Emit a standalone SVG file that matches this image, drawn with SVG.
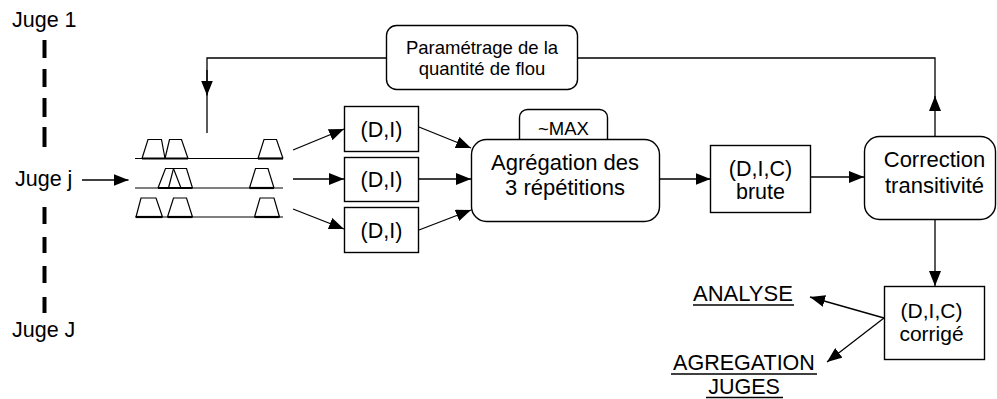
<svg xmlns="http://www.w3.org/2000/svg" width="997" height="399" viewBox="0 0 997 399">
  <defs>
    <marker id="ah" markerWidth="15" markerHeight="12" refX="15" refY="6" orient="auto" markerUnits="userSpaceOnUse">
      <path d="M0,0 L15,6 L0,12 z" fill="#000"/>
    </marker>
    <style>
      text { font-family: "Liberation Sans", Arial, sans-serif; fill: #000; }
      .t22 { font-size: 22px; }
      .t21 { font-size: 21.5px; }
      .t18 { font-size: 18.5px; }
      .box { fill: #fff; stroke: #000; stroke-width: 1.4; }
      .conn { fill: none; stroke: #000; stroke-width: 1.3; }
      .arr { fill: none; stroke: #000; stroke-width: 1.3; marker-end: url(#ah); }
      .dash { stroke: #000; stroke-width: 4; }
      .axis { stroke: #000; stroke-width: 1; }
      .trap { fill: none; stroke: #000; stroke-width: 1.2; stroke-linejoin: miter; }
      .foot { stroke: #000; stroke-width: 2.2; }
      .ul { stroke: #000; stroke-width: 1.5; }
    </style>
  </defs>

  <!-- judge axis -->
  <g id="judges">
    <text class="t21" x="12" y="26.5">Juge 1</text>
    <text class="t21" x="15" y="186">Juge j</text>
    <text class="t21" x="12" y="337">Juge J</text>
    <line class="dash" x1="44.5" y1="40" x2="44.5" y2="58"/>
    <line class="dash" x1="44.5" y1="69" x2="44.5" y2="87"/>
    <line class="dash" x1="44.5" y1="98" x2="44.5" y2="117"/>
    <line class="dash" x1="44.5" y1="127" x2="44.5" y2="147"/>
    <line class="dash" x1="44.5" y1="207" x2="44.5" y2="224"/>
    <line class="dash" x1="44.5" y1="237" x2="44.5" y2="253"/>
    <line class="dash" x1="44.5" y1="266" x2="44.5" y2="283"/>
    <line class="dash" x1="44.5" y1="297" x2="44.5" y2="313"/>
  </g>

  <!-- three repetitions of fuzzy judgements -->
  <g id="repetitions">
    <line class="axis" x1="135" y1="158.5" x2="283" y2="158.5"/>
    <line class="axis" x1="135" y1="188" x2="283" y2="188"/>
    <line class="axis" x1="135" y1="217" x2="283" y2="217"/>
    <!-- row 1 -->
    <path class="trap" d="M142,158.5 L148,139.5 L161.5,139.5 L165,158.5"/>
    <path class="trap" d="M165,158.5 L169.5,139.5 L181.5,139.5 L188,158.5"/>
    <path class="trap" d="M258,158.5 L264,139.5 L276.5,139.5 L283,158.5"/>
    <line class="foot" x1="142" y1="158.5" x2="188" y2="158.5"/>
    <line class="foot" x1="258" y1="158.5" x2="283" y2="158.5"/>
    <!-- row 2 -->
    <path class="trap" d="M158,188 L165.5,168.5 L173.5,168.5 L181,188"/>
    <path class="trap" d="M168.5,188 L173.5,168.5 L186.5,168.5 L192.5,188"/>
    <path class="trap" d="M249.5,188 L255.5,168.5 L268,168.5 L274,188"/>
    <line class="foot" x1="158" y1="188" x2="192.5" y2="188"/>
    <line class="foot" x1="249.5" y1="188" x2="274" y2="188"/>
    <!-- row 3 -->
    <path class="trap" d="M136,217 L141,198 L156,198 L162.5,217"/>
    <path class="trap" d="M167.5,217 L173.5,198 L186.5,198 L192.5,217"/>
    <path class="trap" d="M254.5,217 L260,198 L274,198 L279.5,217"/>
    <line class="foot" x1="136" y1="217" x2="162.5" y2="217"/>
    <line class="foot" x1="167.5" y1="217" x2="192.5" y2="217"/>
    <line class="foot" x1="254.5" y1="217" x2="279.5" y2="217"/>
  </g>

  <!-- connectors -->
  <g id="connectors">
    <!-- feedback loop -->
    <path class="conn" d="M935,109 L935,58 L207,58 L207,95"/>
    <line class="arr" x1="935" y1="136" x2="935" y2="96"/>
    <line class="arr" x1="207" y1="70" x2="207" y2="95.5"/>
    <line class="conn" x1="207" y1="95" x2="207" y2="133"/>
    <!-- judge j input -->
    <line class="arr" x1="82" y1="180" x2="128.5" y2="180"/>
    <!-- repetitions to (D,I) -->
    <line class="arr" x1="293" y1="150" x2="344" y2="129"/>
    <line class="arr" x1="293" y1="179" x2="344" y2="179"/>
    <line class="arr" x1="293" y1="209" x2="344" y2="229"/>
    <!-- (D,I) to aggregation -->
    <line class="arr" x1="419" y1="127" x2="471" y2="148"/>
    <line class="arr" x1="419" y1="179" x2="471" y2="179"/>
    <line class="arr" x1="419" y1="230" x2="471" y2="210"/>
    <!-- main chain -->
    <line class="arr" x1="659" y1="179" x2="710.5" y2="179"/>
    <line class="arr" x1="811" y1="177" x2="864" y2="177"/>
    <line class="arr" x1="935" y1="219" x2="935" y2="286"/>
    <!-- outputs -->
    <line class="arr" x1="884" y1="318" x2="810" y2="297"/>
    <line class="arr" x1="884" y1="318" x2="827" y2="362"/>
  </g>

  <g id="param">
    <rect class="box" x="386.5" y="25.5" width="191" height="64" rx="10"/>
    <text class="t18" x="482" y="54" text-anchor="middle">Paramétrage de la</text>
    <text class="t18" x="482" y="75" text-anchor="middle">quantité de flou</text>
  </g>

  <g id="di1">
    <rect class="box" x="344.5" y="106.5" width="74" height="45"/>
    <text class="t21" x="381.5" y="137" text-anchor="middle">(D,I)</text>
  </g>
  <g id="di2">
    <rect class="box" x="344.5" y="157.5" width="74" height="44"/>
    <text class="t21" x="381.5" y="187" text-anchor="middle">(D,I)</text>
  </g>
  <g id="di3">
    <rect class="box" x="344.5" y="207.5" width="74" height="45"/>
    <text class="t21" x="381.5" y="238" text-anchor="middle">(D,I)</text>
  </g>

  <g id="max">
    <rect class="box" x="519.5" y="109.5" width="88" height="45" rx="8"/>
    <text class="t18" x="563.5" y="134.5" text-anchor="middle">~MAX</text>
  </g>

  <g id="aggregation">
    <rect class="box" x="471.5" y="139.5" width="188" height="82" rx="15"/>
    <text class="t22" x="565" y="170" text-anchor="middle">Agrégation des</text>
    <text class="t22" x="565" y="195" text-anchor="middle">3 répétitions</text>
  </g>

  <g id="raw">
    <rect class="box" x="710.5" y="145.5" width="100" height="67"/>
    <text class="t21" x="760.5" y="175.5" text-anchor="middle">(D,I,C)</text>
    <text class="t21" x="760.5" y="199" text-anchor="middle">brute</text>
  </g>

  <g id="correction">
    <rect class="box" x="864.5" y="136.5" width="131" height="83" rx="15"/>
    <text class="t22" x="934.5" y="166.5" text-anchor="middle">Correction</text>
    <text class="t22" x="934.5" y="193" text-anchor="middle">transitivité</text>
  </g>

  <g id="corrected">
    <rect class="box" x="884.5" y="286.5" width="100" height="73"/>
    <text x="931.5" y="317.5" text-anchor="middle" font-size="21">(D,I,C)</text>
    <text x="931.5" y="341" text-anchor="middle" font-size="21">corrigé</text>
  </g>

  <!-- underlined output labels -->
  <g id="analyse">
    <text class="t22" x="693" y="301">ANALYSE</text>
    <line class="ul" x1="693" y1="305" x2="794" y2="305"/>
  </g>

  <g id="aggregation-judges">
    <text x="744" y="370" text-anchor="middle" font-size="21.5">AGREGATION</text>
    <line class="ul" x1="671" y1="374" x2="817" y2="374"/>
    <text x="744" y="394" text-anchor="middle" font-size="21.5">JUGES</text>
    <line class="ul" x1="706" y1="397.5" x2="783" y2="397.5"/>
  </g>
</svg>
